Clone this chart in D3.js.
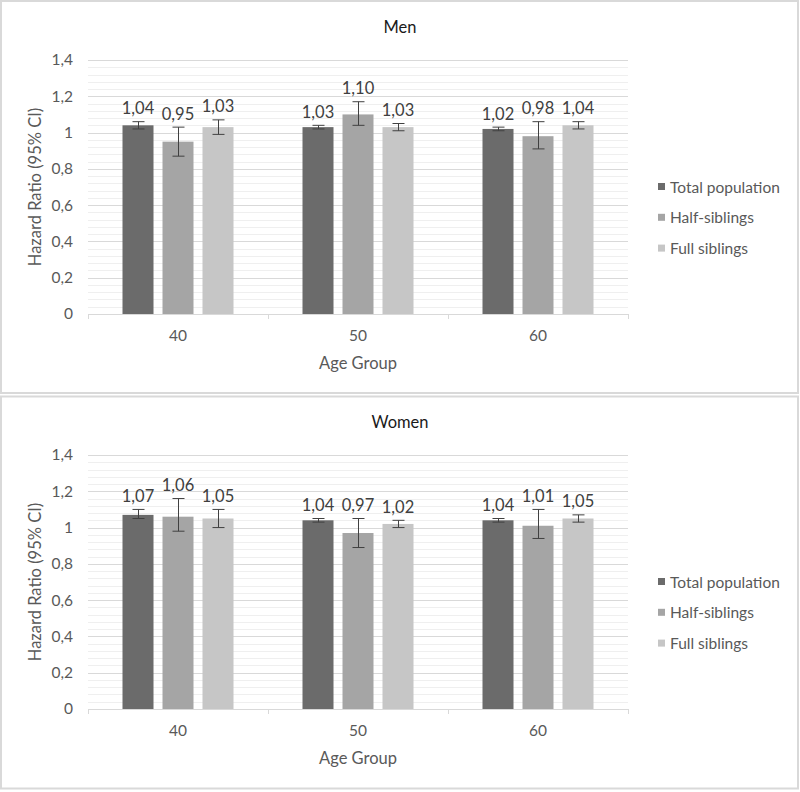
<!DOCTYPE html>
<html>
<head>
<meta charset="utf-8">
<script src="https://cdn.jsdelivr.net/npm/d3@7"></script>
<style>
  html, body { margin: 0; padding: 0; background: #fff; }
  svg { display: block; font-family: Lato, "Open Sans", sans-serif; }
</style>
</head>
<body>
<svg id="chart" width="800" height="792"></svg>
<script>
// ---- Data ----
const categories = ["40", "50", "60"];
const seriesNames = ["Total population", "Half-siblings", "Full siblings"];
const seriesColors = ["#6b6b6b", "#a5a5a5", "#c6c6c6"];
const yTicks = [0, 0.2, 0.4, 0.6, 0.8, 1, 1.2, 1.4];

// Men: values per series, across categories 40, 50, 60
const menTotal = [1.04, 1.03, 1.02];
const menHalf  = [0.95, 1.10, 0.98];
const menFull  = [1.03, 1.03, 1.04];
const menTotalLow  = [1.02, 1.02, 1.01];
const menTotalHigh = [1.06, 1.04, 1.03];
const menHalfLow   = [0.87, 1.04, 0.91];
const menHalfHigh  = [1.03, 1.17, 1.06];
const menFullLow   = [0.99, 1.01, 1.02];
const menFullHigh  = [1.07, 1.05, 1.06];

// Women
const womenTotal = [1.07, 1.04, 1.04];
const womenHalf  = [1.06, 0.97, 1.01];
const womenFull  = [1.05, 1.02, 1.05];
const womenTotalLow  = [1.05, 1.03, 1.03];
const womenTotalHigh = [1.10, 1.05, 1.05];
const womenHalfLow   = [0.98, 0.89, 0.94];
const womenHalfHigh  = [1.16, 1.05, 1.10];
const womenFullLow   = [1.00, 1.00, 1.03];
const womenFullHigh  = [1.10, 1.04, 1.07];

const panels = [
  { title: "Men",
    values: [menTotal, menHalf, menFull],
    lows: [menTotalLow, menHalfLow, menFullLow],
    highs: [menTotalHigh, menHalfHigh, menFullHigh] },
  { title: "Women",
    values: [womenTotal, womenHalf, womenFull],
    lows: [womenTotalLow, womenHalfLow, womenFullLow],
    highs: [womenTotalHigh, womenHalfHigh, womenFullHigh] }
];

// ---- Drawing ----
const svg = d3.select("#chart");
const locale = d3.formatLocale({ decimal: ",", thousands: ".", grouping: [3], currency: ["", ""] });
const fmtTick = v => locale.format("~g")(v);
const fmtVal = locale.format(".2f");

const panelH = 395;
const plotLeft = 88, plotRight = 628;
const plotTop = 60, plotBottom = 314;

const x = d3.scaleBand().domain(categories).range([plotLeft, plotRight]).padding(0);
const xs = d3.scaleBand().domain(seriesNames).range([0, 111]).paddingInner(9 / 40).paddingOuter(0);
const y = d3.scaleLinear().domain([0, 1.4]).range([plotBottom, plotTop]);

panels.forEach((p, pi) => {
  const g = svg.append("g").attr("transform", `translate(0,${pi * panelH})`);

  // panel border
  g.append("rect")
    .attr("x", 1).attr("y", 1 + (pi ? 0.5 : 0))
    .attr("width", 797).attr("height", 392)
    .attr("fill", "#fff").attr("stroke", "#d9d9d9").attr("stroke-width", 2);

  // minor gridlines
  const minor = d3.range(0, 1.4001, 0.04).filter(v => Math.abs(Math.round(v / 0.2) * 0.2 - v) > 1e-6);
  g.append("g").selectAll("line").data(minor).join("line")
    .attr("x1", plotLeft).attr("x2", plotRight)
    .attr("y1", d => Math.round(y(d)) + 0.5).attr("y2", d => Math.round(y(d)) + 0.5)
    .attr("stroke", "#efefef").attr("stroke-width", 1);

  // major gridlines
  g.append("g").selectAll("line").data(yTicks.filter(v => v > 0)).join("line")
    .attr("x1", plotLeft).attr("x2", plotRight)
    .attr("y1", d => Math.round(y(d)) + 0.5).attr("y2", d => Math.round(y(d)) + 0.5)
    .attr("stroke", "#d9d9d9").attr("stroke-width", 1);

  // y axis labels
  const yAxis = d3.axisLeft(y).tickValues(yTicks).tickFormat(fmtTick).tickSize(0).tickPadding(15);
  const ya = g.append("g").attr("transform", `translate(${plotLeft},0)`).call(yAxis);
  ya.select(".domain").remove();
  ya.selectAll("text").attr("fill", "#595959").attr("font-size", "15.5px").attr("font-family", "Lato, sans-serif");

  // x axis
  const xAxis = d3.axisBottom(x).tickSize(0).tickPadding(16);
  const xa = g.append("g").attr("transform", `translate(0,${plotBottom})`).call(xAxis);
  xa.select(".domain").attr("stroke", "#d9d9d9");
  xa.selectAll("text").attr("fill", "#595959").attr("font-size", "15.5px").attr("font-family", "Lato, sans-serif");
  // category boundary ticks
  const bounds = categories.map(c => x(c)).concat([plotRight]);
  g.append("g").selectAll("line").data(bounds).join("line")
    .attr("x1", d => Math.round(d) + 0.5).attr("x2", d => Math.round(d) + 0.5)
    .attr("y1", plotBottom).attr("y2", plotBottom + 5)
    .attr("stroke", "#d9d9d9");

  // bars
  seriesNames.forEach((s, si) => {
    const sg = g.append("g");
    const data = categories.map((c, ci) => ({
      c, v: p.values[si][ci], lo: p.lows[si][ci], hi: p.highs[si][ci]
    }));
    const cx = d => x(d.c) + x.bandwidth() / 2 - 55.5 + xs(s);
    sg.selectAll("rect").data(data).join("rect")
      .attr("x", cx).attr("width", xs.bandwidth())
      .attr("y", d => y(d.v)).attr("height", d => y(0) - y(d.v))
      .attr("fill", seriesColors[si]);

    // error bars
    const eg = sg.append("g").attr("stroke", "#404040").attr("stroke-width", 1);
    data.forEach(d => {
      const mx = Math.round(cx(d) + xs.bandwidth() / 2) + 0.5;
      eg.append("line").attr("x1", mx).attr("x2", mx).attr("y1", y(d.hi)).attr("y2", y(d.lo));
      eg.append("line").attr("x1", mx - 6).attr("x2", mx + 6).attr("y1", y(d.hi)).attr("y2", y(d.hi));
      eg.append("line").attr("x1", mx - 6).attr("x2", mx + 6).attr("y1", y(d.lo)).attr("y2", y(d.lo));
    });

    // data labels
    sg.selectAll("text").data(data).join("text")
      .attr("x", d => cx(d) + xs.bandwidth() / 2)
      .attr("y", d => y(d.hi) - 7.5)
      .attr("text-anchor", "middle")
      .attr("fill", "#404040").attr("font-size", "16.5px")
      .text(d => fmtVal(d.v));
  });

  // title
  g.append("text").attr("x", 400).attr("y", 33).attr("text-anchor", "middle")
    .attr("fill", "#1a1a1a").attr("font-size", "16.5px").text(p.title);

  // axis titles
  g.append("text").attr("x", (plotLeft + plotRight) / 2).attr("y", 369).attr("text-anchor", "middle")
    .attr("fill", "#595959").attr("font-size", "16.5px").text("Age Group");
  g.append("text")
    .attr("transform", `translate(41,${(plotTop + plotBottom) / 2}) rotate(-90)`)
    .attr("text-anchor", "middle")
    .attr("fill", "#595959").attr("font-size", "16.5px").text("Hazard Ratio (95% CI)");

  // legend
  const lg = g.append("g").attr("transform", "translate(658,187)");
  seriesNames.forEach((s, si) => {
    const row = lg.append("g").attr("transform", `translate(0,${si * 30.8})`);
    row.append("rect").attr("x", 0).attr("y", -4).attr("width", 7).attr("height", 7).attr("fill", seriesColors[si]);
    row.append("text").attr("x", 12).attr("y", 5.5).attr("fill", "#595959").attr("font-size", "15.5px").text(s);
  });
});
</script>
</body>
</html>
